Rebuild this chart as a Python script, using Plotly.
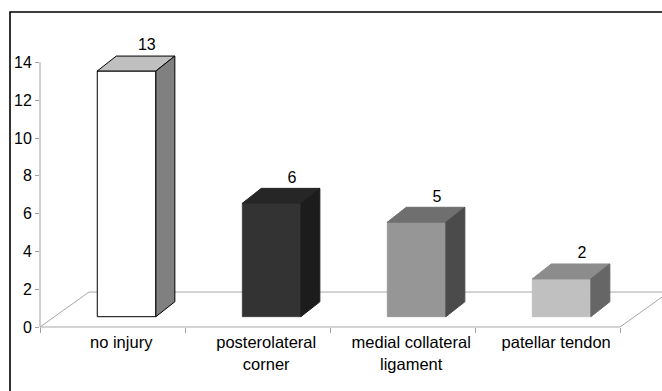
import plotly.graph_objects as go

# Injury categories and counts
categories = ["no injury", "posterolateral<br>corner", "medial collateral<br>ligament", "patellar tendon"]
counts = [13, 6, 5, 2]
y_ticks = [0, 2, 4, 6, 8, 10, 12, 14]

# Face colours for each column: front, top, side
front_colors = ["#ffffff", "#333333", "#969696", "#c0c0c0"]
top_colors = ["#c0c0c0", "#262626", "#6f6f6f", "#8c8c8c"]
side_colors = ["#808080", "#1c1c1c", "#4b4b4b", "#666666"]
edge_colors = ["#000000", "#2a2a2a", "#8a8a8a", "#b4b4b4"]
edge_widths = [1, 0.6, 0.6, 0.6]

# Pseudo-3D geometry (category units on x, value units on y)
X_RANGE = [-0.5, -0.5 + 622 / 145]
Y_RANGE = [0, 307 / 18.9]
FLOOR_DX, FLOOR_DY = 0.338, 1.85      # depth of the floor
FRONT_DX, FRONT_DY = 0.097, 0.545     # where the column fronts stand
COL_DX, COL_DY = 0.131, 0.79          # column depth
COL_W = 0.404
FLOOR_LINE = "#a8a8a8"
FONT = "Liberation Sans, Arial, sans-serif"

xs = [i + FRONT_DX for i in range(len(counts))]


def dom(x, y):
    """data coords -> axis-domain fractions (unclipped shapes)"""
    return ((x - X_RANGE[0]) / (X_RANGE[1] - X_RANGE[0]),
            (y - Y_RANGE[0]) / (Y_RANGE[1] - Y_RANGE[0]))


def seg(p0, p1, color, width=1, layer="below"):
    x0, y0 = dom(*p0)
    x1, y1 = dom(*p1)
    return dict(type="line", xref="x domain", yref="y domain",
                x0=x0, y0=y0, x1=x1, y1=y1, layer=layer,
                line=dict(color=color, width=width))


fig = go.Figure()

# Column front faces
fig.add_trace(go.Bar(
    x=xs, y=counts, base=[FRONT_DY] * len(counts), width=COL_W,
    marker=dict(color=front_colors, line=dict(color=edge_colors, width=edge_widths)),
    hoverinfo="skip", showlegend=False,
))

# Column top and side faces
for i, v in enumerate(counts):
    xl, xr = xs[i] - COL_W / 2, xs[i] + COL_W / 2
    yb, yt = FRONT_DY, FRONT_DY + v
    top_x = [xl, xr, xr + COL_DX, xl + COL_DX, xl]
    top_y = [yt, yt, yt + COL_DY, yt + COL_DY, yt]
    side_x = [xr, xr + COL_DX, xr + COL_DX, xr, xr]
    side_y = [yb, yb + COL_DY, yt + COL_DY, yt, yb]
    for fx, fy, fc in ((top_x, top_y, top_colors[i]), (side_x, side_y, side_colors[i])):
        fig.add_trace(go.Scatter(
            x=fx, y=fy, mode="lines", fill="toself", fillcolor=fc,
            line=dict(color=edge_colors[i] if i == 0 else fc, width=1),
            hoverinfo="skip", showlegend=False,
        ))

# Value labels above the columns
fig.add_trace(go.Scatter(
    x=[x + 0.14 for x in xs], y=[v + FRONT_DY + 1.3 for v in counts],
    mode="text", text=[str(v) for v in counts], textposition="middle center",
    textfont=dict(family=FONT, size=16, color="#000000"),
    cliponaxis=False, hoverinfo="skip", showlegend=False,
))

n = len(counts)
shapes = [
    # floor outline
    seg((-0.5, 0), (n - 0.5, 0), FLOOR_LINE),
    seg((n - 0.5, 0), (n - 0.5 + FLOOR_DX, FLOOR_DY), FLOOR_LINE),
    seg((-0.5, 0), (-0.5 + FLOOR_DX, FLOOR_DY), FLOOR_LINE),
    seg((-0.5 + FLOOR_DX, FLOOR_DY), (n - 0.5 + FLOOR_DX + 1, FLOOR_DY), FLOOR_LINE),
    # value axis line
    seg((-0.5, 0), (-0.5, y_ticks[-1]), "#a0a0a0", layer="above"),
    # chart border
    dict(type="rect", xref="paper", yref="paper",
         x0=-30 / 622, x1=1.2, y0=-0.4, y1=315 / 307,
         line=dict(color="#000000", width=1.6), layer="above"),
]

fig.update_layout(
    width=662, height=391,
    margin=dict(l=40, r=0, t=20, b=64),
    paper_bgcolor="#ffffff", plot_bgcolor="#ffffff",
    font=dict(family=FONT, size=16, color="#000000"),
    shapes=shapes,
    hovermode=False,
    xaxis=dict(
        range=X_RANGE, showgrid=False, zeroline=False, showline=False,
        tickmode="array", tickvals=[i + 0.06 for i in range(n)], ticktext=categories,
        ticks="outside", ticklen=0.5, tickcolor="rgba(0,0,0,0)",
        minor=dict(tickmode="array", tickvals=[i - 0.5 for i in range(n + 1)],
                   ticks="outside", ticklen=5, tickcolor="#a0a0a0", showgrid=False),
        tickfont=dict(size=16.5),
    ),
    yaxis=dict(
        range=Y_RANGE, showgrid=False, zeroline=False, showline=False,
        tickmode="array", tickvals=y_ticks,
        ticks="outside", ticklen=4, tickcolor="#a0a0a0",
        tickfont=dict(size=16),
    ),
)

fig.write_html("out.html")
